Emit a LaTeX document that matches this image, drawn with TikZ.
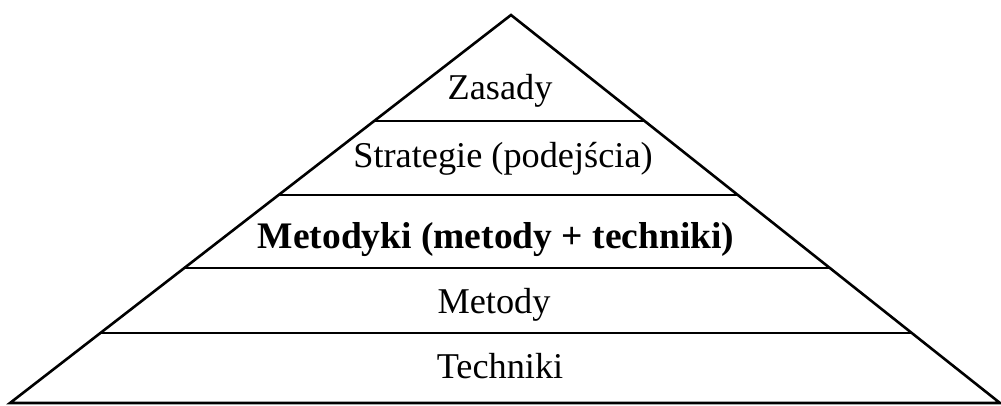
\documentclass[tikz,border=0pt]{standalone}
\usepackage{fontspec}
\setmainfont{Liberation Serif}
\usetikzlibrary{calc}
\begin{document}
\begin{tikzpicture}[x=1pt,y=-1pt,
  edge/.style={line width=2.6pt, line join=miter},
  divider/.style={line width=2.4pt},
  tier/.style={anchor=base, inner sep=0pt, font=\fontsize{36.3}{42}\selectfont},
  boldtier/.style={tier, font=\fontsize{37.5}{44}\selectfont\bfseries}]
  \useasboundingbox (0,0) rectangle (1001,405);
  % pyramid outline
  \coordinate (apex) at (511,15);
  \coordinate (bl) at (10,403);
  \coordinate (br) at (1000,403);
  \draw[edge] (bl) -- (apex) -- (br) -- cycle;
  % tier dividers
  \foreach \t/\n in {0.2732/a, 0.4639/b, 0.6521/c, 0.8196/d} {
    \coordinate (l\n) at ($(apex)!\t!(bl)$);
    \coordinate (r\n) at ($(apex)!\t!(br)$);
    \draw[divider] (l\n) -- (r\n);
  }
  % tier labels
  \node[tier] (zasady) at (500,99) {Zasady};
  \node[tier] (strategie) at (503,167) {Strategie (podejścia)};
  \node[boldtier] (metodyki) at (496,248) {Metodyki (metody + techniki)};
  \node[tier] (metody) at (494,313) {Metody};
  \node[tier] (techniki) at (500,378) {Techniki};
\end{tikzpicture}
\end{document}
